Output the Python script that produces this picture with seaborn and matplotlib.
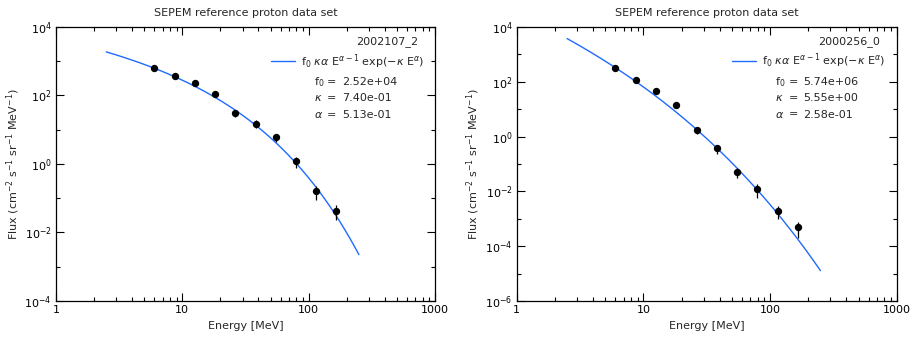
import numpy as np
import pandas as pd
import seaborn as sns
import matplotlib
matplotlib.use("Agg")
import matplotlib.pyplot as plt
from matplotlib.ticker import LogLocator, FixedLocator, FuncFormatter, NullFormatter

# channel mid energies (MeV)
energy = [6.01, 8.70, 12.6, 18.2, 26.3, 38.0, 55.0, 79.5, 115.0, 166.0]

# event 2002107_2
flux_a = [630, 365, 234, 114, 30, 15, 6.0, 1.2, 0.16, 0.043]
err_a = [30, 20, 14, 10, 7, 4, 1.6, 0.45, 0.07, 0.02]
params_a = {"f0": 2.52e4, "kappa": 7.40e-1, "alpha": 5.13e-1}
event_a = "2002107_2"

# event 2000256_0
flux_b = [320, 117, 45, 13.7, 1.7, 0.37, 0.052, 0.012, 0.0020, 5.0e-4]
err_b = [20, 7, 4, 3, 0.5, 0.13, 0.02, 0.006, 0.001, 3e-4]
params_b = {"f0": 5.74e6, "kappa": 5.55e0, "alpha": 2.58e-1}
event_b = "2000256_0"

e_min, e_max = 2.5, 250.0

sns.set_theme(style="ticks")
plt.rcParams["font.family"] = ["DejaVu Sans"]
plt.rcParams["font.size"] = 8
plt.rcParams["mathtext.fontset"] = "dejavusans"

fig = plt.figure(figsize=(9.1, 3.4), dpi=100)
ax1 = fig.add_axes([0.0615, 0.1147, 0.4165, 0.806])
ax2 = fig.add_axes([0.5678, 0.1138, 0.4176, 0.8077])

blue = "#1f6bff"


def weibull(e, f0, kappa, alpha):
    return f0 * kappa * alpha * e ** (alpha - 1) * np.exp(-kappa * e ** alpha)


def panel(ax, flux, err, p, name, ylo, yhi):
    e = np.geomspace(e_min, e_max, 200)
    curve = pd.DataFrame({"E": e, "F": weibull(e, p["f0"], p["kappa"], p["alpha"])})
    sns.lineplot(data=curve, x="E", y="F", ax=ax, color=blue, lw=1.0,
                 label=r"f$_0$ $\kappa\alpha$ E$^{\alpha-1}$ exp($-\kappa$ E$^{\alpha}$)")
    pts = pd.DataFrame({"E": energy, "F": flux})
    ax.errorbar(energy, flux, yerr=err, fmt="none", ecolor="black", elinewidth=0.9)
    sns.scatterplot(data=pts, x="E", y="F", ax=ax, color="black", s=28,
                    edgecolor="black", linewidth=0, zorder=5)
    ax.set_xscale("log")
    ax.set_yscale("log")
    ax.set_xlim(1, 1000)
    ax.set_ylim(ylo, yhi)

    ax.xaxis.set_major_locator(FixedLocator([1, 10, 100, 1000]))
    ax.xaxis.set_minor_locator(LogLocator(base=10, subs=np.arange(2, 10)))
    ax.xaxis.set_major_formatter(FuncFormatter(lambda v, _: "%d" % round(v)))
    ax.xaxis.set_minor_formatter(NullFormatter())
    dec = np.arange(np.log10(ylo), np.log10(yhi) + 1)
    ax.yaxis.set_major_locator(FixedLocator([10.0 ** d for d in dec if d % 2 == 0]))
    ax.yaxis.set_minor_locator(FixedLocator([10.0 ** d for d in dec if d % 2 != 0]))
    ax.yaxis.set_major_formatter(FuncFormatter(lambda v, _: r"10$^{%d}$" % round(np.log10(v))))
    ax.yaxis.set_minor_formatter(NullFormatter())

    ax.tick_params(which="both", direction="in", top=True, right=True, labelsize=8,
                   width=0.8, colors="black")
    ax.tick_params(which="major", length=6, pad=3)
    ax.tick_params(which="minor", length=3)
    for s in ax.spines.values():
        s.set_linewidth(0.9)
        s.set_color("black")

    ax.set_title("SEPEM reference proton data set", fontsize=8, pad=8)
    ax.set_xlabel("Energy [MeV]", fontsize=8)
    ax.set_ylabel(r"Flux (cm$^{-2}$ s$^{-1}$ sr$^{-1}$ MeV$^{-1}$)", fontsize=8, labelpad=2)

    ax.legend(loc="upper left", bbox_to_anchor=(0.555, 0.925), frameon=False,
              fontsize=8, handlelength=2.2, handletextpad=0.5, borderaxespad=0)
    ax.text(0.955, 0.945, name, transform=ax.transAxes, ha="right", va="center", fontsize=8)
    rows = [(r"f$_0$", p["f0"]), (r"$\kappa$", p["kappa"]), (r"$\alpha$", p["alpha"])]
    for i, (sym, val) in enumerate(rows):
        y = 0.80 - i * 0.06
        ax.text(0.68, y, sym, transform=ax.transAxes, ha="left", va="center", fontsize=8)
        ax.text(0.715, y, "=", transform=ax.transAxes, ha="left", va="center", fontsize=8)
        ax.text(0.755, y, "%.2e" % val, transform=ax.transAxes, ha="left", va="center", fontsize=8)


panel(ax1, flux_a, err_a, params_a, event_a, 1e-4, 1e4)
panel(ax2, flux_b, err_b, params_b, event_b, 1e-6, 1e4)

fig.savefig("out.png", dpi=100)
